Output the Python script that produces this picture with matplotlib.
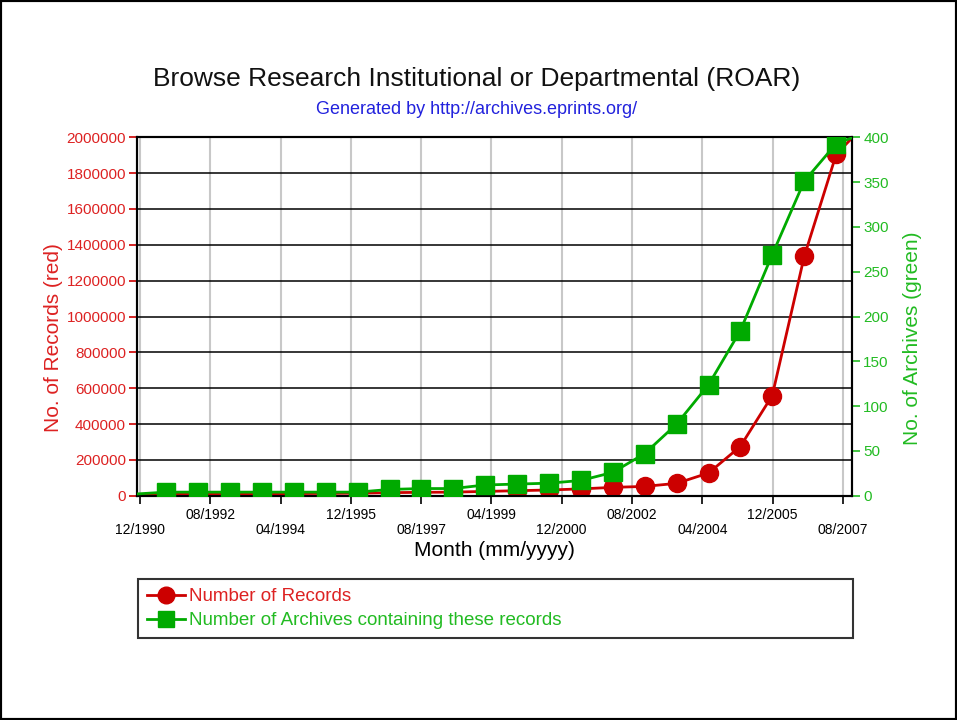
'''ROAR growth chart: records vs archives'''
import matplotlib
matplotlib.use("Agg")
import matplotlib.pyplot as plt
from matplotlib.lines import Line2D
from matplotlib.patches import Rectangle

plt.rcParams['font.family'] = ['Liberation Sans', 'DejaVu Sans']

# ----------------------------------------------------
# Data (months since 12/1990)
# ----------------------------------------------------
months = [7.4, 16.5, 25.6, 34.6, 43.7, 52.8, 61.9, 71.0, 80.0, 89.1, 98.2,
          107.3, 116.4, 125.4, 134.5, 143.6, 152.7, 161.8, 170.8, 179.9,
          189.0, 198.1]

records = [8000, 9000, 10000, 11000, 12000, 13000, 14000, 17000, 19000,
           20000, 24000, 28000, 32000, 38000, 46500, 52000, 69000, 127000,
           274500, 558500, 1335000, 1905000]

archives = [4, 4, 4, 4, 4, 4, 4, 7, 8, 8, 12, 13, 14, 17, 26, 47, 80, 124,
            184, 269, 351, 393]

# line ends at the plot edges
line_start_month, line_end_month = -0.85, 202.3
records_start, records_end = 7000, 1990000
archives_start, archives_end = 2, 399

tick_months = [0, 20, 40, 60, 80, 100, 120, 140, 160, 180, 200]
tick_labels = ["12/1990", "08/1992", "04/1994", "12/1995", "08/1997",
               "04/1999", "12/2000", "08/2002", "04/2004", "12/2005",
               "08/2007"]

RED = "#cc0000"
GREEN = "#00aa00"
RED_TXT = "#dd2222"
GREEN_TXT = "#22bb22"

# ----------------------------------------------------
# Figure
# ----------------------------------------------------
fig = plt.figure(figsize=(9.57, 7.2), dpi=100)
fig.patches.append(Rectangle((0, 0), 1, 1, transform=fig.transFigure,
                             fill=False, edgecolor="black", linewidth=3))

ax = fig.add_axes([0.1432, 0.3115, 0.7471, 0.4978])
ax2 = ax.twinx()

rx = [line_start_month] + months + [line_end_month]
ry = [records_start] + records + [records_end]
gy = [archives_start] + archives + [archives_end]

ax.plot(rx, ry, color=RED, linewidth=2, zorder=3)
ax.plot(months, records, linestyle="none", marker="o", markersize=13,
        color=RED, zorder=4)
ax2.plot(rx, gy, color=GREEN, linewidth=2, zorder=3)
ax2.plot(months, archives, linestyle="none", marker="s", markersize=13,
         color=GREEN, zorder=4)

ax.set_xlim(-0.85, 202.6)
ax.set_ylim(0, 2000000)
ax2.set_ylim(0, 400)

ax.set_yticks(range(0, 2000001, 200000))
ax.set_yticklabels([str(v) for v in range(0, 2000001, 200000)])
ax2.set_yticks(range(0, 401, 50))

ax.set_xticks(tick_months)
ax.set_xticklabels([("\n" + t) if i % 2 == 0 else t
                    for i, t in enumerate(tick_labels)], linespacing=1.1)

ax.grid(axis="y", color="black", linewidth=1.1)
ax.grid(axis="x", color="#c8c8c8", linewidth=1.5)
ax.set_axisbelow(True)

ax.tick_params(axis="x", colors="black", labelcolor="black", labelsize=10,
               length=6, width=1.2, pad=3)
ax.tick_params(axis="y", colors=RED, labelcolor=RED_TXT, labelsize=11,
               length=6, width=1.2, pad=2)
ax2.tick_params(axis="y", colors=GREEN_TXT, labelcolor=GREEN_TXT,
                labelsize=11, length=6, width=1.2, pad=2)

for a in (ax, ax2):
    for s in a.spines.values():
        s.set_color("black")
        s.set_linewidth(1.5)

ax.set_ylabel("No. of Records (red)", color=RED_TXT, fontsize=15,
              va="center")
ax.yaxis.set_label_coords(-0.1175, 0.44)
ax2.set_ylabel("No. of Archives (green)", color=GREEN_TXT, fontsize=15,
               va="center")
ax2.yaxis.set_label_coords(1.085, 0.44)
ax.set_xlabel("Month (mm/yyyy)", fontsize=15, labelpad=3)

fig.text(0.4984, 1 - 79 / 720,
         "Browse Research Institutional or Departmental (ROAR)",
         ha="center", va="center", fontsize=19, color="#111111")
fig.text(0.4984, 1 - 109 / 720, "Generated by http://archives.eprints.org/",
         ha="center", va="center", fontsize=13, color="#2222dd")

# ----------------------------------------------------
# Legend
# ----------------------------------------------------
handles = [
    Line2D([], [], color=RED, linewidth=2, marker="o", markersize=12),
    Line2D([], [], color=GREEN, linewidth=2, marker="s", markersize=12),
]
leg = ax.legend(handles, ["Number of Records",
                          "Number of Archives containing these records"],
                loc="upper left", mode="expand",
                bbox_to_anchor=(0.1442, 0.114, 0.7468, 0.082),
                bbox_transform=fig.transFigure, fontsize=13.5,
                frameon=True, fancybox=False, borderaxespad=0,
                handlelength=2.0, handletextpad=0.2, borderpad=0.5,
                labelspacing=0.35)
leg.get_frame().set_edgecolor("black")
leg.get_frame().set_linewidth(1.5)
for txt, c in zip(leg.get_texts(), [RED_TXT, GREEN_TXT]):
    txt.set_color(c)

fig.savefig("out.png", dpi=100)
